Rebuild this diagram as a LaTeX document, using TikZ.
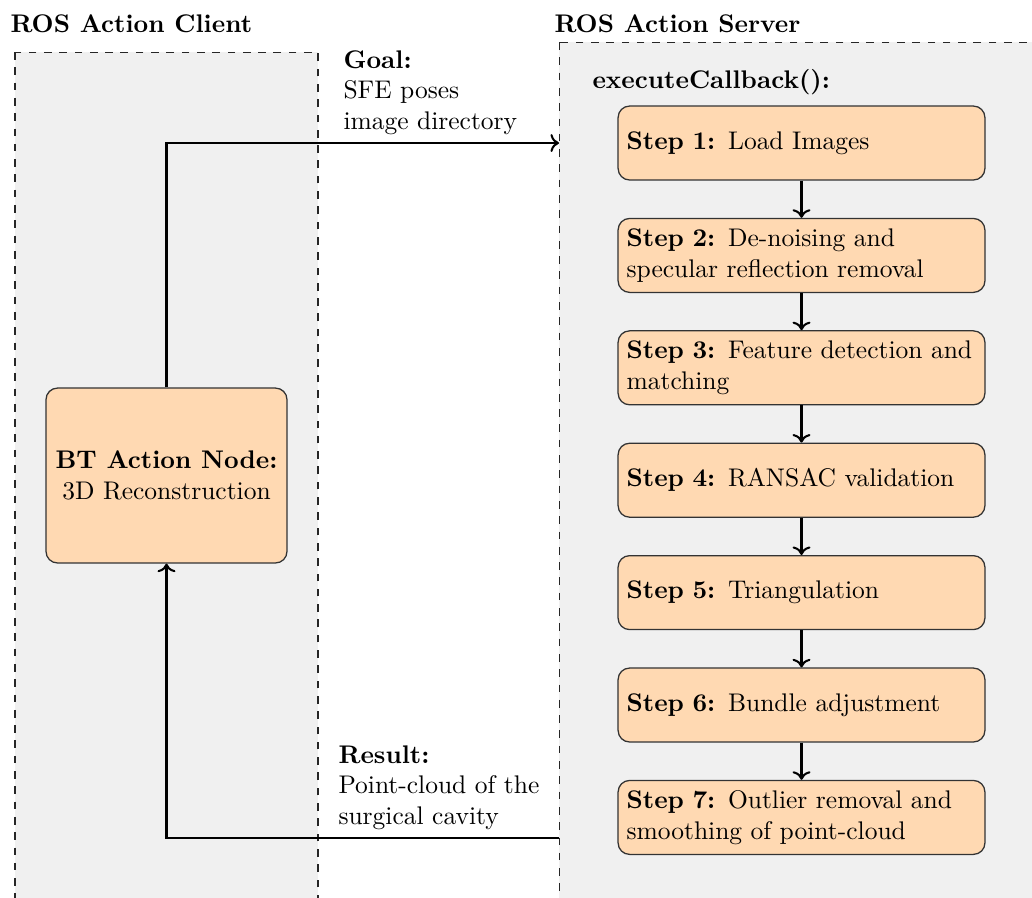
\documentclass[tikz,border=0pt]{standalone}
\usetikzlibrary{arrows.meta}
\begin{document}
\begin{tikzpicture}[x=0.3922pt,y=-0.3922pt,
  panel/.style={draw=black!85, dashed, line width=0.4pt, fill=black!6},
  stepbox/.style={draw=black!80, fill=orange!30, rounded corners=4.5pt,
    text width=137.2pt, minimum height=29pt, inner sep=3.33pt,
    align=left, line width=0.5pt},
  btbox/.style={draw=black!80, fill=orange!30, rounded corners=4.5pt,
    minimum width=94.5pt, minimum height=68.6pt, align=center, line width=0.5pt},
  title/.style={font=\bfseries, inner sep=0pt, anchor=base west},
  msg/.style={align=left, inner sep=0pt, anchor=north west},
  flow/.style={->, thick}]

\useasboundingbox (0,0) rectangle (1032,897);
\clip (0,0) rectangle (1032,897);

% client and server areas
\draw[panel] (15,52) rectangle (318,930);
\draw[panel] (559,42) rectangle (1060,930);

\node[title] (tclient) at (10,32) {ROS Action Client};
\node[title] (tserver) at (554,32) {ROS Action Server};
\node[title] (cb) at (592,88) {executeCallback():};

% behaviour tree action node
\node[btbox] (bt) at (166.5,475.5) {\textbf{BT Action Node:}\\3D Reconstruction};

% server pipeline
\node[stepbox] (s1) at (801.5,143.0) {\textbf{Step 1:} Load Images};
\node[stepbox] (s2) at (801.5,255.4) {\textbf{Step 2:} De-noising and\\specular reflection removal};
\node[stepbox] (s3) at (801.5,367.8) {\textbf{Step 3:} Feature detection and\\matching};
\node[stepbox] (s4) at (801.5,480.2) {\textbf{Step 4:} RANSAC validation};
\node[stepbox] (s5) at (801.5,592.6) {\textbf{Step 5:} Triangulation};
\node[stepbox] (s6) at (801.5,705.0) {\textbf{Step 6:} Bundle adjustment};
\node[stepbox] (s7) at (801.5,817.4) {\textbf{Step 7:} Outlier removal and\\smoothing of point-cloud};

\foreach \a/\b in {s1/s2,s2/s3,s3/s4,s4/s5,s5/s6,s6/s7}
  \draw[flow] (\a) -- (\b);

% goal and result messages
\coordinate (goalin) at (559,143);
\coordinate (resout) at (559,838);

\draw[flow] (bt.north) |- (goalin);
\draw[flow] (resout) -| (bt.south);

\node[msg] (goal) at (343,50) {\textbf{Goal:}\\SFE poses\\image directory};
\node[msg] (result) at (338,745) {\textbf{Result:}\\Point-cloud of the\\surgical cavity};

\end{tikzpicture}
\end{document}
